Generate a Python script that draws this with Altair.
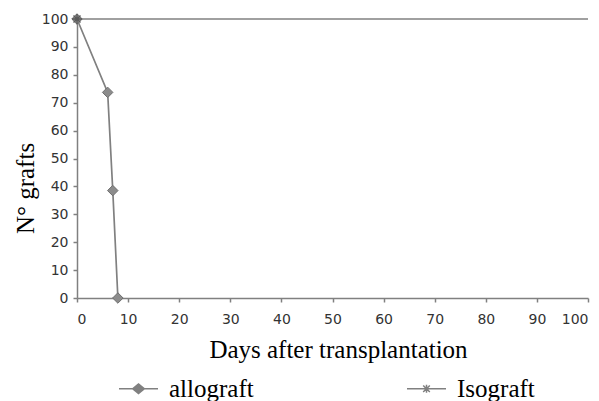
import altair as alt
import pandas as pd

# ---- data ----
series_names = ["allograft", "Isograft"]
allo_days = [0, 6, 7, 8]
allo_pct = [100, 73.7, 38.5, 0]
iso_days = [0, 100]
iso_pct = [100, 100]
iso_marker_days = [0]
iso_marker_pct = [100]
x_ticks = list(range(0, 101, 10))
y_ticks = list(range(0, 101, 10))

GRAY = "#808080"

lines_df = pd.DataFrame({
    "day": allo_days + iso_days,
    "pct": allo_pct + iso_pct,
    "series": [series_names[0]] * len(allo_days) + [series_names[1]] * len(iso_days),
})
allo_df = pd.DataFrame({"day": allo_days, "pct": allo_pct})
iso_df = pd.DataFrame({"day": iso_marker_days, "pct": iso_marker_pct})
legend_df = pd.DataFrame({"legend_series": series_names, "day": [0, 0], "pct": [100, 100]})

x_enc = alt.X(
    "day:Q",
    scale=alt.Scale(domain=[0, 100], nice=False, zero=False),
    axis=alt.Axis(
        values=x_ticks, title="Days after transplantation", grid=False,
        labelPadding=10, titleX=261, titleY=59, titleBaseline="alphabetic",
        titleAlign="center", labelOverlap=False,
    ),
)
y_enc = alt.Y(
    "pct:Q",
    scale=alt.Scale(domain=[0, 100], nice=False),
    axis=alt.Axis(
        values=y_ticks, title="N° grafts", grid=False, labelPadding=5,
        titleX=-44, titleY=169, titleBaseline="alphabetic", titleAlign="center",
        titleAngle=270, labelOverlap=False,
    ),
)

line_layer = alt.Chart(lines_df).mark_line(color=GRAY, strokeWidth=1.7).encode(
    x=x_enc, y=y_enc, detail="series:N"
)

diamond_layer = alt.Chart(allo_df).mark_point(
    shape="diamond", size=110, filled=True, fill="#8c8c8c", stroke="#6e6e6e",
    strokeWidth=1, opacity=1,
).encode(x=x_enc, y=y_enc)

STAR = "M-1,0L1,0M0,-1L0,1M-0.7,-0.7L0.7,0.7M-0.7,0.7L0.7,-0.7"
star_layer = alt.Chart(iso_df).mark_point(
    shape=STAR, size=100, filled=False, stroke="#5a5a5a", strokeWidth=1.3, opacity=1,
).encode(x=x_enc, y=y_enc)

LEG_DIAMOND = ("M-1,0L1,0"
               "M-0.3,0L0,-0.25L0.3,0L0,0.25Z"
               "M-0.2,0L0,-0.16L0.2,0L0,0.16Z"
               "M-0.1,0L0,-0.08L0.1,0L0,0.08Z")
LEG_STAR = ("M-1,0L1,0"
            "M-0.17,-0.17L0.17,0.17M-0.17,0.17L0.17,-0.17M0,-0.2L0,0.2")

legend_layer = alt.Chart(legend_df).mark_point(
    size=0, filled=False, strokeWidth=0
).encode(
    x=x_enc, y=y_enc,
    shape=alt.Shape(
        "legend_series:N",
        scale=alt.Scale(domain=series_names, range=[LEG_DIAMOND, LEG_STAR]),
        legend=alt.Legend(
            title=None, orient="none", legendX=41, legendY=349,
            direction="horizontal", columns=2, columnPadding=150,
            symbolSize=1521, symbolStrokeColor=GRAY, symbolStrokeWidth=1.5,
            symbolFillColor="transparent", symbolOpacity=1,
            labelFont="Liberation Serif", labelFontSize=25, labelColor="black",
            labelOffset=10, padding=0, labelLimit=300,
        ),
    ),
)

chart = alt.layer(line_layer, diamond_layer, star_layer, legend_layer).resolve_scale(
    shape="independent"
).properties(
    width=511, height=279,
    autosize=alt.AutoSizeParams(type="none"),
    padding={"left": 69, "top": 11, "right": 3, "bottom": 120},
).configure_view(stroke=None).configure_axis(
    domainColor=GRAY, domainWidth=1.5, tickColor=GRAY, tickWidth=1.5, tickSize=4,
    labelFont="DejaVu Sans", labelFontSize=14, labelColor="#333333",
    titleFont="Liberation Serif", titleFontSize=25, titleFontWeight="normal",
    titleColor="black",
)

chart.save("out.html", embed_options={"renderer": "svg", "actions": False})
